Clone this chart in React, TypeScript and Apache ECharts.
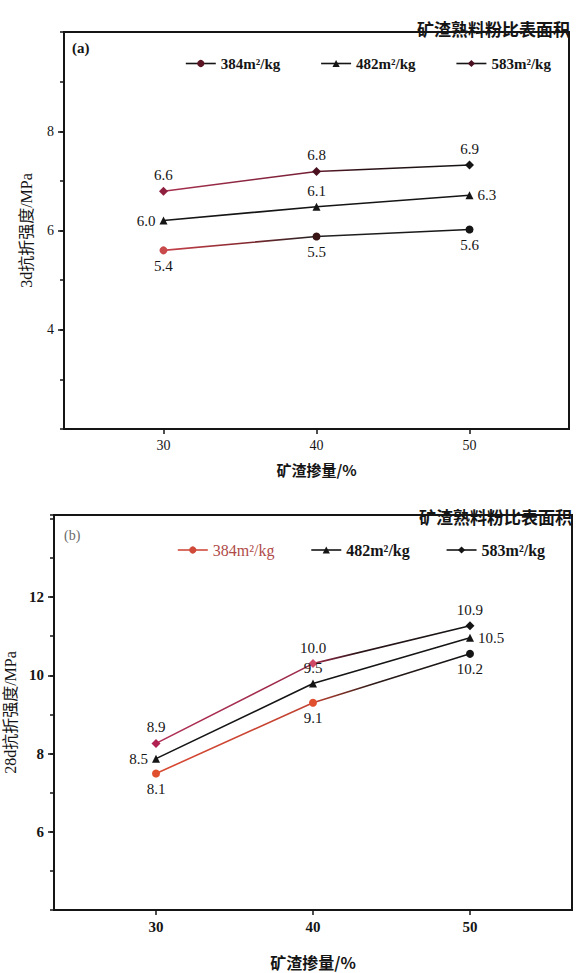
import React, { useEffect, useRef } from "react";
import * as echarts from "echarts";

// ---- data ----
const xValues = [30, 40, 50];
const seriesNames = ["384m²/kg", "482m²/kg", "583m²/kg"];

// (a) 3d flexural strength: plotted heights, printed labels
const a384 = [5.6, 5.88, 6.02];
const a482 = [6.2, 6.48, 6.71];
const a583 = [6.79, 7.19, 7.32];
const a384Labels = ["5.4", "5.5", "5.6"];
const a482Labels = ["6.0", "6.1", "6.3"];
const a583Labels = ["6.6", "6.8", "6.9"];

// (b) 28d flexural strength
const b384 = [7.49, 9.3, 10.55];
const b482 = [7.87, 9.79, 10.96];
const b583 = [8.26, 10.3, 11.27];
const b384Labels = ["8.1", "9.1", "10.2"];
const b482Labels = ["8.5", "9.5", "10.5"];
const b583Labels = ["8.9", "10.0", "10.9"];

const xTicks = [30, 40, 50];
const aYMajor = [4, 6, 8];
const bYMajor = [6, 8, 10, 12];

const legendTitle = "矿渣熟料粉比表面积";
const xName = "矿渣掺量/%";
const aYName = "3d抗折强度/MPa";
const bYName = "28d抗折强度/MPa";

// ---- styles ----
const SERIF = "'Liberation Serif', 'Noto Sans CJK SC', serif";
const CJK = "'Noto Sans CJK SC', 'Liberation Serif', sans-serif";
const INK = "#151515";
const X_MIN = 23.5;
const X_MAX = 56.5;

const grad = (stops: [number, string][]) =>
  new echarts.graphic.LinearGradient(
    0,
    0,
    1,
    0,
    stops.map(([offset, color]) => ({ offset, color }))
  );

function mkSeries(
  name: string,
  ys: number[],
  labels: string[],
  positions: string[],
  symbol: string,
  symbolSize: number,
  lineColor: any,
  markerColors: string[]
) {
  return {
    type: "line",
    name,
    symbol,
    symbolSize,
    silent: true,
    xAxisIndex: 0,
    yAxisIndex: 0,
    data: xValues.map((x, i) => ({
      value: [x, ys[i]],
      label: { position: positions[i], formatter: labels[i] },
    })),
    lineStyle: { color: lineColor, width: 1.6 },
    itemStyle: { color: (p: any) => markerColors[p.dataIndex] },
    label: {
      show: true,
      fontFamily: SERIF,
      fontSize: 15,
      color: INK,
      distance: 4,
    },
    emphasis: { disabled: true },
    z: 3,
  };
}

function baseOption(cfg: {
  gridLeft: number;
  gridRight: number;
  gridTop: number;
  gridHeight: number;
  yMin: number;
  yMax: number;
  yMajor: number[];
  yName: string;
  yNameGap: number;
  xNameGap: number;
  xNameSize: number;
  tickFontSize: number;
  tickBold: boolean;
}) {
  const rect = {
    left: cfg.gridLeft,
    right: cfg.gridRight,
    top: cfg.gridTop,
    height: cfg.gridHeight,
    containLabel: false,
    outerBoundsMode: "none",
  };
  return {
    animation: false,
    backgroundColor: "#ffffff",
    grid: [
      {
        ...rect,
        show: true,
        borderColor: INK,
        borderWidth: 2,
        backgroundColor: "#ffffff",
      },
      { ...rect, show: false },
    ],
    xAxis: [
      {
        type: "value",
        gridIndex: 0,
        min: X_MIN,
        max: X_MAX,
        name: xName,
        nameLocation: "middle",
        nameGap: cfg.xNameGap,
        nameTextStyle: {
          fontFamily: CJK,
          fontSize: cfg.xNameSize,
          fontWeight: "bold",
          color: INK,
        },
        axisLine: { show: true, lineStyle: { color: INK, width: 2 } },
        axisTick: {
          show: true,
          customValues: xTicks,
          length: 5,
          inside: false,
          lineStyle: { color: INK, width: 1.5 },
        },
        axisLabel: {
          customValues: xTicks,
          fontFamily: SERIF,
          fontSize: cfg.tickFontSize,
          fontWeight: cfg.tickBold ? "bold" : "normal",
          color: INK,
          margin: 9,
        },
        splitLine: { show: false },
      },
      {
        type: "value",
        gridIndex: 1,
        min: X_MIN,
        max: X_MAX,
        show: false,
      },
    ],
    yAxis: [
      {
        type: "value",
        gridIndex: 0,
        min: cfg.yMin,
        max: cfg.yMax,
        position: "left",
        splitLine: { show: false },
        name: cfg.yName,
        nameLocation: "middle",
        nameGap: cfg.yNameGap,
        nameTextStyle: { fontFamily: SERIF, fontSize: 16, color: INK },
        axisLine: { show: true, lineStyle: { color: INK, width: 2 } },
        axisTick: {
          show: true,
          customValues: cfg.yMajor,
          length: 6,
          lineStyle: { color: INK, width: 1.5 },
        },
        axisLabel: {
          customValues: cfg.yMajor,
          fontFamily: SERIF,
          fontSize: cfg.tickFontSize,
          fontWeight: cfg.tickBold ? "bold" : "normal",
          color: INK,
          margin: 10,
        },
        z: 2,
      },
      {
        // minor ticks at every unit
        type: "value",
        gridIndex: 1,
        min: cfg.yMin,
        max: cfg.yMax,
        interval: 1,
        position: "left",
        splitLine: { show: false },
        axisLine: { show: true, lineStyle: { color: INK, width: 2 } },
        axisTick: {
          show: true,
          length: 4,
          lineStyle: { color: INK, width: 1.5 },
        },
        axisLabel: { show: false },
        z: 1,
      },
    ],
  };
}

function legendFor(
  top: number,
  left: number,
  gap: number,
  fontSize: number,
  items: { line: string; marker: string; text: string; weight: string }[]
) {
  return {
    top,
    left,
    itemWidth: 30,
    itemHeight: 9,
    itemGap: gap,
    selectedMode: false,
    data: seriesNames.map((n, i) => ({
      name: n,
      itemStyle: { color: items[i].marker },
      lineStyle: { color: items[i].line, width: 1.6 },
      textStyle: {
        color: items[i].text,
        fontWeight: items[i].weight,
        fontFamily: SERIF,
        fontSize,
      },
    })),
  };
}

function optionA() {
  const base: any = baseOption({
    gridLeft: 64,
    gridRight: 8,
    gridTop: 32,
    gridHeight: 397,
    yMin: 2,
    yMax: 10,
    yMajor: aYMajor,
    yName: aYName,
    yNameGap: 30,
    xNameGap: 33,
    xNameSize: 15,
    tickFontSize: 14,
    tickBold: false,
  });
  base.legend = legendFor(51, 180, 40, 15, [
    { line: INK, marker: "#5a1424", text: INK, weight: "bold" },
    { line: INK, marker: INK, text: INK, weight: "bold" },
    { line: INK, marker: "#4a1020", text: INK, weight: "bold" },
  ]);
  base.graphic = [
    {
      type: "text",
      right: 7,
      top: 20,
      style: {
        text: legendTitle,
        font: `bold 17px ${CJK}`,
        fill: INK,
      },
    },
    {
      type: "text",
      left: 72,
      top: 40,
      style: { text: "(a)", font: `bold 15px ${SERIF}`, fill: INK },
    },
  ];
  base.series = [
    mkSeries(
      seriesNames[0],
      a384,
      a384Labels,
      ["bottom", "bottom", "bottom"],
      "circle",
      8,
      grad([
        [0, "#c8424c"],
        [0.25, "#8a2a30"],
        [0.5, "#222222"],
        [1, "#151515"],
      ]),
      ["#c84a4a", "#3a1515", "#151515"]
    ),
    mkSeries(
      seriesNames[1],
      a482,
      a482Labels,
      ["left", "top", "right"],
      "triangle",
      8,
      INK,
      [INK, INK, INK]
    ),
    mkSeries(
      seriesNames[2],
      a583,
      a583Labels,
      ["top", "top", "top"],
      "diamond",
      9,
      grad([
        [0, "#a8304e"],
        [0.45, "#7a2038"],
        [0.65, "#2a1015"],
        [1, "#151515"],
      ]),
      ["#8e1f3e", "#4a1020", "#151515"]
    ),
  ];
  return base;
}

function optionB() {
  const base: any = baseOption({
    gridLeft: 54,
    gridRight: 5,
    gridTop: 25,
    gridHeight: 395,
    yMin: 4,
    yMax: 14.1,
    yMajor: bYMajor,
    yName: bYName,
    yNameGap: 34,
    xNameGap: 44,
    xNameSize: 16,
    tickFontSize: 15,
    tickBold: true,
  });
  base.legend = legendFor(47, 172, 36, 16, [
    { line: "#d04a3a", marker: "#d04a3a", text: "#b04a48", weight: "normal" },
    { line: INK, marker: INK, text: INK, weight: "bold" },
    { line: INK, marker: INK, text: INK, weight: "bold" },
  ]);
  base.graphic = [
    {
      type: "text",
      right: 5,
      top: 18,
      style: {
        text: legendTitle,
        font: `bold 17px ${CJK}`,
        fill: INK,
      },
    },
    {
      type: "text",
      left: 64,
      top: 38,
      style: { text: "(b)", font: `14px ${SERIF}`, fill: "#6a6a6a" },
    },
  ];
  base.series = [
    mkSeries(
      seriesNames[0],
      b384,
      b384Labels,
      ["bottom", "bottom", "bottom"],
      "circle",
      8,
      grad([
        [0, "#d84a34"],
        [0.5, "#c04232"],
        [0.7, "#2a1a18"],
        [1, "#151515"],
      ]),
      ["#e0502e", "#e0502e", "#151515"]
    ),
    mkSeries(
      seriesNames[1],
      b482,
      b482Labels,
      ["left", "top", "right"],
      "triangle",
      8,
      INK,
      [INK, INK, INK]
    ),
    mkSeries(
      seriesNames[2],
      b583,
      b583Labels,
      ["top", "top", "top"],
      "diamond",
      9,
      grad([
        [0, "#b02e54"],
        [0.5, "#9a2a48"],
        [0.65, "#2a1418"],
        [1, "#151515"],
      ]),
      ["#b02050", "#d04868", "#151515"]
    ),
  ];
  return base;
}

function Chart({ top, height, build }: { top: number; height: number; build: () => any }) {
  const ref = useRef<HTMLDivElement>(null);
  useEffect(() => {
    if (!ref.current) return;
    const chart = echarts.init(ref.current, undefined, { renderer: "svg" });
    chart.setOption(build());
    return () => chart.dispose();
  }, [build]);
  return (
    <div
      ref={ref}
      style={{ position: "absolute", left: 0, top, width: 577, height }}
    />
  );
}

export default function App() {
  return (
    <div
      style={{
        position: "absolute",
        left: 0,
        top: 0,
        width: 577,
        height: 973,
        background: "#ffffff",
        overflow: "hidden",
      }}
    >
      <Chart top={0} height={490} build={optionA} />
      <Chart top={490} height={483} build={optionB} />
    </div>
  );
}
